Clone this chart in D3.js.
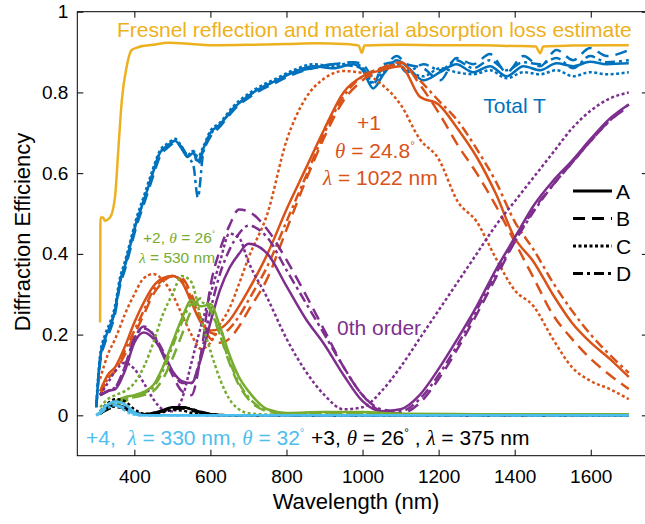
<!DOCTYPE html>
<html>
<head>
<meta charset="utf-8">
<script src="https://cdn.jsdelivr.net/npm/d3@7"></script>
<style>
body { margin: 0; background: #fff; }
svg { display: block; font-family: "Liberation Sans", Arial, sans-serif; }
text { white-space: pre; }
</style>
</head>
<body>
<div id="vizHolder"></div>
<script>
// ---------- data ----------
var xTicks = [400, 600, 800, 1000, 1200, 1400, 1600],
    yTicks = [0, 0.2, 0.4, 0.6, 0.8, 1],
    variants = ['A', 'B', 'C', 'D'];

// Fresnel / absorption loss estimate
var fresnelWl = [310, 311, 318, 322, 336, 349, 358, 367, 380, 393, 410, 450, 490, 550, 600, 700, 800, 880, 950, 990, 998, 1005, 1100, 1200, 1300, 1400, 1455, 1467, 1475, 1550, 1650, 1700];
var fresnelV  = [.23, .49, .49, .482, .49, .54, .66, .78, .865, .905, .912, .918, .923, .92, .917, .918, .92, .922, .92, .916, .898, .916, .918, .917, .917, .915, .914, .897, .914, .916, .917, .917];

// Total T
var totalWl = [300, 310, 323, 336, 349, 362, 375, 389, 406, 424, 445, 467, 490, 507, 525, 540, 555, 567, 581, 600, 625, 660, 713, 774, 818, 870, 923, 975, 1000, 1028, 1055, 1090, 1116, 1160, 1204, 1247, 1291, 1335, 1379, 1423, 1467, 1510, 1554, 1598, 1642, 1700];
var totalA = [.02, .14, .19, .22, .26, .33, .37, .42, .48, .53, .59, .65, .67, .68, .66, .64, .65, .63, .66, .70, .72, .76, .80, .83, .85, .865, .86, .87, .855, .81, .845, .88, .865, .83, .85, .87, .85, .865, .84, .865, .855, .872, .865, .876, .87, .872];
var totalB = [.02, .13, .18, .21, .25, .32, .36, .41, .47, .52, .58, .64, .665, .675, .665, .645, .655, .62, .655, .69, .715, .755, .795, .825, .845, .86, .87, .875, .87, .84, .86, .89, .87, .86, .83, .885, .87, .895, .85, .89, .865, .905, .88, .91, .89, .905];
var totalC = [.03, .15, .20, .23, .27, .34, .38, .43, .49, .54, .60, .655, .675, .685, .665, .645, .655, .64, .665, .705, .725, .765, .805, .835, .855, .87, .865, .875, .86, .825, .85, .87, .855, .84, .86, .85, .845, .855, .835, .85, .845, .855, .84, .85, .845, .85];
var totalD = [.02, .14, .19, .22, .26, .33, .37, .42, .48, .53, .59, .65, .67, .68, .66, .64, .62, .54, .65, .695, .72, .76, .80, .83, .85, .86, .87, .865, .86, .82, .87, .875, .85, .87, .855, .88, .86, .88, .855, .875, .87, .885, .86, .89, .875, .88];

// +1 and 0th order
var mainWl = [310, 330, 350, 375, 400, 425, 450, 475, 500, 525, 550, 575, 600, 625, 650, 675, 700, 750, 800, 850, 900, 950, 1000, 1050, 1100, 1150, 1200, 1250, 1300, 1350, 1400, 1450, 1500, 1550, 1600, 1650, 1700];
var firstA = [.06, .10, .12, .17, .23, .28, .32, .34, .345, .33, .28, .23, .21, .215, .235, .27, .31, .40, .51, .61, .71, .80, .84, .855, .865, .79, .77, .71, .64, .55, .44, .38, .30, .23, .18, .14, .095];
var firstB = [.05, .09, .11, .15, .20, .25, .30, .33, .345, .34, .30, .24, .19, .18, .19, .22, .26, .34, .46, .58, .69, .78, .83, .86, .875, .82, .75, .67, .60, .52, .43, .34, .25, .19, .14, .10, .065];
var firstC = [.09, .15, .19, .25, .30, .34, .35, .335, .30, .25, .20, .165, .18, .225, .265, .325, .39, .50, .68, .785, .835, .853, .848, .82, .77, .685, .635, .53, .48, .39, .31, .27, .19, .12, .085, .065, .04];
var firstD = [.05, .09, .11, .16, .21, .26, .31, .335, .345, .335, .29, .24, .205, .20, .215, .245, .285, .37, .48, .59, .70, .79, .84, .86, .87, .83, .78, .73, .66, .58, .48, .41, .33, .26, .20, .15, .105];

var zeroA = [.05, .06, .065, .11, .18, .205, .19, .155, .11, .085, .08, .14, .23, .31, .365, .40, .425, .40, .32, .24, .175, .10, .035, .01, .015, .05, .115, .19, .27, .36, .44, .52, .58, .63, .685, .735, .77];
var zeroB = [.05, .06, .07, .12, .19, .22, .20, .15, .10, .06, .05, .15, .32, .41, .47, .51, .505, .46, .385, .30, .21, .12, .05, .01, .005, .03, .09, .165, .25, .34, .43, .51, .57, .625, .68, .73, .765];
var zeroC = [.05, .08, .11, .13, .115, .08, .04, .015, .01, .04, .13, .22, .30, .38, .45, .44, .38, .29, .19, .11, .05, .015, .02, .06, .12, .19, .26, .33, .40, .47, .53, .59, .65, .71, .755, .785, .80];
var zeroD = [.05, .06, .07, .12, .19, .215, .20, .16, .11, .08, .08, .15, .26, .35, .41, .45, .47, .44, .36, .28, .20, .12, .05, .015, .01, .04, .10, .175, .26, .35, .43, .505, .57, .625, .68, .73, .77];

// +2 and +3 order
var shortWl = [310, 330, 350, 375, 400, 425, 450, 475, 500, 525, 550, 575, 600, 625, 650, 675, 700, 750, 800, 900, 1000, 1100, 1300, 1500, 1700];
var secondA = [.01, .025, .035, .045, .05, .058, .075, .12, .18, .24, .285, .27, .275, .22, .15, .095, .06, .015, .006, .008, .008, .004, .003, .003, .003];
var secondB = [.005, .015, .025, .035, .045, .05, .06, .09, .14, .20, .26, .29, .265, .20, .13, .075, .04, .01, .004, .006, .006, .003, .002, .002, .002];
var secondC = [.02, .04, .05, .06, .08, .12, .18, .25, .30, .345, .33, .24, .16, .09, .04, .015, .005, .002, .001, .001, .001, .001, .001, .001, .001];
var secondD = [.01, .02, .03, .04, .045, .055, .07, .11, .17, .23, .275, .28, .26, .20, .135, .08, .045, .012, .005, .006, .006, .003, .002, .002, .002];

var thirdA = [.005, .02, .025, .02, .006, .003, .006, .013, .02, .02, .015, .008, .003, .001, 0, 0, 0, 0, 0, 0, 0, 0, 0, 0, 0];
var thirdB = [.004, .015, .02, .016, .005, .002, .005, .01, .016, .017, .012, .006, .002, 0, 0, 0, 0, 0, 0, 0, 0, 0, 0, 0, 0];
var thirdC = [.01, .03, .04, .035, .015, .004, .003, .008, .013, .012, .006, .002, 0, 0, 0, 0, 0, 0, 0, 0, 0, 0, 0, 0, 0];
var thirdD = [.004, .018, .022, .018, .006, .003, .006, .012, .018, .02, .016, .009, .003, .001, 0, 0, 0, 0, 0, 0, 0, 0, 0, 0, 0];

// +4 order
var fourthWl = [300, 310, 320, 330, 340, 350, 360, 375, 390, 405, 420, 450, 500, 600, 800, 1000, 1200, 1400, 1700];
var fourthA = [0, .008, .018, .026, .032, .034, .033, .027, .016, .005, .001, 0, 0, 0, 0, 0, 0, 0, 0];
var fourthB = [0, .006, .013, .02, .024, .025, .022, .016, .008, .002, 0, 0, 0, 0, 0, 0, 0, 0, 0];
var fourthC = [0, .01, .02, .028, .03, .028, .022, .012, .004, .001, 0, 0, 0, 0, 0, 0, 0, 0, 0];
var fourthD = [0, .005, .012, .018, .022, .024, .023, .018, .01, .003, 0, 0, 0, 0, 0, 0, 0, 0, 0];

// ---------- layout ----------
var width = 645, height = 524,
    x0 = 77.3, x1 = 647.8, yTop = 11.7, yBot = 455.7;

var colors = {
  blue: '#0072BD', orange: '#D95319', yellow: '#EDB120',
  purple: '#7E2F8E', green: '#77AC30', cyan: '#4DBEEE'
};
var dashes = { A: null, B: '12,7', C: '3,2.5', D: '10,4,3,4' };

var groups = [
  { color: colors.blue,   wl: totalWl,  v: { A: totalA,  B: totalB,  C: totalC,  D: totalD } },
  { color: colors.orange, wl: mainWl,   v: { A: firstA,  B: firstB,  C: firstC,  D: firstD } },
  { color: colors.purple, wl: mainWl,   v: { A: zeroA,   B: zeroB,   C: zeroC,   D: zeroD } },
  { color: colors.green,  wl: shortWl,  v: { A: secondA, B: secondB, C: secondC, D: secondD } },
  { color: '#000000',     wl: shortWl,  v: { A: thirdA,  B: thirdB,  C: thirdC,  D: thirdD } },
  { color: colors.cyan,   wl: fourthWl, v: { A: fourthA, B: fourthB, C: fourthC, D: fourthD } }
];

var x = d3.scaleLinear().domain([250, 1750]).range([x0, x1]);
var y = d3.scaleLinear().domain([-0.1, 1]).range([yBot, yTop]);

var svg = d3.select('#vizHolder')
  .append('svg')
  .attr('width', width)
  .attr('height', height);

svg.append('clipPath').attr('id', 'plotClip')
  .append('rect')
  .attr('x', x0).attr('y', yTop)
  .attr('width', x1 - x0).attr('height', yBot - yTop);

var line = d3.line()
  .x(function(d){ return x(d[0]); })
  .y(function(d){ return y(d[1]); })
  .curve(d3.curveMonotoneX);

/* ----------- curves ----------- */
var plot = svg.append('g').attr('clip-path', 'url(#plotClip)');

groups.forEach(function(g){
  variants.forEach(function(k){
    var pts = g.wl.map(function(w, i){ return [w, g.v[k][i]]; });
    plot.append('path')
      .datum(pts)
      .attr('fill', 'none')
      .attr('stroke', g.color)
      .attr('stroke-width', 2.5)
      .attr('stroke-dasharray', dashes[k])
      .attr('stroke-linejoin', 'round')
      .attr('d', line);
  });
});

plot.append('path')
  .datum(fresnelWl.map(function(w, i){ return [w, fresnelV[i]]; }))
  .attr('fill', 'none')
  .attr('stroke', colors.yellow)
  .attr('stroke-width', 2.5)
  .attr('d', line);

/* ----------- axes ----------- */
function styleAxis(sel){
  sel.select('.domain').remove();
  sel.selectAll('.tick line').attr('stroke', '#000');
  sel.selectAll('.tick text')
    .attr('fill', '#000')
    .attr('font-size', 19)
    .attr('font-family', '"Liberation Sans", Arial, sans-serif');
}

svg.append('g')
  .attr('transform', 'translate(0,' + yBot + ')')
  .call(d3.axisBottom(x).tickValues(xTicks).tickSizeInner(-6).tickSizeOuter(0).tickPadding(14).tickFormat(String))
  .call(styleAxis);

svg.append('g')
  .attr('transform', 'translate(0,' + yTop + ')')
  .call(d3.axisTop(x).tickValues(xTicks).tickSizeInner(-6).tickSizeOuter(0).tickFormat(''))
  .call(styleAxis);

svg.append('g')
  .attr('transform', 'translate(' + x0 + ',0)')
  .call(d3.axisLeft(y).tickValues(yTicks).tickSizeInner(-6).tickSizeOuter(0).tickPadding(9).tickFormat(String))
  .call(styleAxis);

svg.append('g')
  .attr('transform', 'translate(' + x1 + ',0)')
  .call(d3.axisRight(y).tickValues(yTicks).tickSizeInner(-6).tickSizeOuter(0).tickFormat(''))
  .call(styleAxis);

svg.append('rect')
  .attr('x', x0).attr('y', yTop)
  .attr('width', x1 - x0).attr('height', yBot - yTop)
  .attr('fill', 'none')
  .attr('stroke', '#000')
  .attr('stroke-width', 1);

svg.append('text')
  .attr('x', 356).attr('y', 509)
  .attr('text-anchor', 'middle')
  .attr('font-size', 22)
  .text('Wavelength (nm)');

svg.append('text')
  .attr('transform', 'translate(30,' + 232 + ') rotate(-90)')
  .attr('text-anchor', 'middle')
  .attr('font-size', 22)
  .text('Diffraction Efficiency');

/* ----------- legend ----------- */
var legendY = [191, 218.5, 246, 273.5];
variants.forEach(function(k, i){
  svg.append('line')
    .attr('x1', 573).attr('x2', 612)
    .attr('y1', legendY[i]).attr('y2', legendY[i])
    .attr('stroke', '#000')
    .attr('stroke-width', 3)
    .attr('stroke-dasharray', dashes[k]);
  svg.append('text')
    .attr('x', 616).attr('y', legendY[i] + 7.5)
    .attr('font-size', 21)
    .text(k);
});

/* ----------- annotations ----------- */
function richText(px, py, parts, size, color){
  var t = svg.append('text')
    .attr('x', px).attr('y', py)
    .attr('font-size', size)
    .attr('fill', color);
  var raised = false;
  parts.forEach(function(p){
    var s = t.append('tspan').text(p[0]);
    if (raised) { s.attr('dy', size * 0.42); raised = false; }
    if (p[1] === 'i') {
      s.attr('font-family', '"Liberation Serif", serif').attr('font-style', 'italic');
    } else if (p[1] === 'deg') {
      s.attr('font-size', size * 0.55).attr('dy', -size * 0.42);
      raised = true;
    }
  });
  return t;
}

richText(117, 36.7, [['Fresnel reflection and material absorption loss estimate']], 21, colors.yellow);
richText(483.3, 113.3, [['Total T']], 21, colors.blue);

richText(357, 130, [['+1']], 21, colors.orange);
richText(335, 157.5, [['θ', 'i'], [' = 24.8'], ['°', 'deg']], 21, colors.orange);
richText(323, 185, [['λ', 'i'], [' = 1022 nm']], 21, colors.orange);

richText(143, 243.3, [['+2, '], ['θ', 'i'], [' = 26'], ['°', 'deg']], 15.5, colors.green);
richText(139, 263.3, [['λ', 'i'], [' = 530 nm']], 15.5, colors.green);

richText(337, 335, [['0th order']], 21, colors.purple);

richText(86, 445, [['+4,  '], ['λ', 'i'], [' = 330 nm, '], ['θ', 'i'], [' = 32'], ['°', 'deg']], 21, colors.cyan);
richText(311, 445, [['+3, '], ['θ', 'i'], [' = 26'], ['°', 'deg'], [' , '], ['λ', 'i'], [' = 375 nm']], 21, '#000');
</script>
</body>
</html>
